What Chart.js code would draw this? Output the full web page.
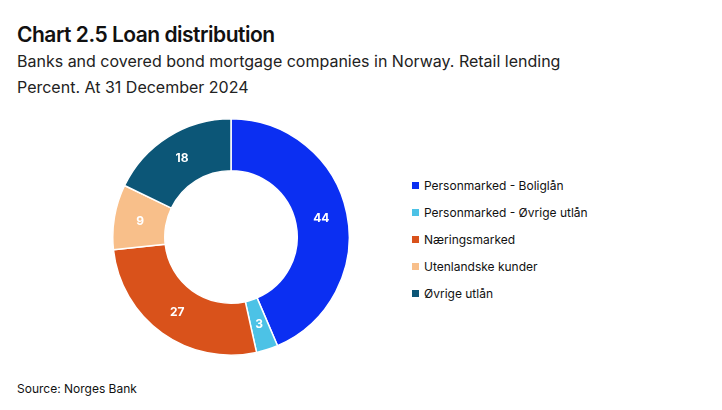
<!DOCTYPE html>
<html><head><meta charset="utf-8">
<script src="https://cdn.jsdelivr.net/npm/chart.js@4"></script>
<style>
body{margin:0;width:722px;height:410px;background:#fff;font-family:Inter,"Noto Sans",sans-serif;color:#111;position:relative;overflow:hidden}
#t{position:absolute;left:17px;top:22px;font-size:21px;font-weight:600;letter-spacing:-0.5px}
.s{position:absolute;left:17px;font-size:16px;color:#222}
#wrap{position:absolute;left:111px;top:117px;width:240px;height:240px}
#leg{position:absolute;left:412px;top:172px;font-size:12px}
#leg div{height:27px;display:flex;align-items:center}
#leg span{display:inline-block;width:7px;height:7px;margin-right:5px}
#src{position:absolute;left:17px;top:381px;font-size:12px}
</style></head><body>
<div id="t">Chart 2.5 Loan distribution</div>
<div class="s" style="top:51px">Banks and covered bond mortgage companies in Norway. Retail lending</div>
<div class="s" style="top:77px">Percent. At 31 December 2024</div>
<div id="wrap"><canvas id="c"></canvas></div>
<div id="leg"></div>
<div id="src">Source: Norges Bank</div>
<script>
const labels = ["Personmarked - Boliglån","Personmarked - Øvrige utlån","Næringsmarked","Utenlandske kunder","Øvrige utlån"];
const values = [44,3,27,9,18];
const colors = ["#0b2ff2","#4cc2e6","#d9521b","#f8bf8a","#0c5677"];

document.getElementById("leg").innerHTML = labels.map((l,i)=>`<div><span style="background:${colors[i]}"></span>${l}</div>`).join("");

const valueLabels = {
  id:"valueLabels",
  afterDatasetsDraw(chart){
    const ctx = chart.ctx;
    ctx.save();
    ctx.font = "bold 12px Inter, sans-serif";
    ctx.fillStyle = "#fff";
    ctx.textAlign = "center"; ctx.textBaseline = "middle";
    chart.getDatasetMeta(0).data.forEach((arc,i)=>{
      const p = arc.tooltipPosition();
      ctx.fillText(values[i], p.x, p.y);
    });
    ctx.restore();
  }
};

new Chart(document.getElementById("c"), {
  type:"doughnut",
  data:{labels, datasets:[{data:values, backgroundColor:colors, borderColor:"#fff", borderWidth:1.5}]},
  options:{responsive:true, maintainAspectRatio:false, animation:false, cutout:"56%",
    layout:{padding:1},
    plugins:{legend:{display:false}, tooltip:{enabled:false}}},
  plugins:[valueLabels]
});
</script>
</body></html>
